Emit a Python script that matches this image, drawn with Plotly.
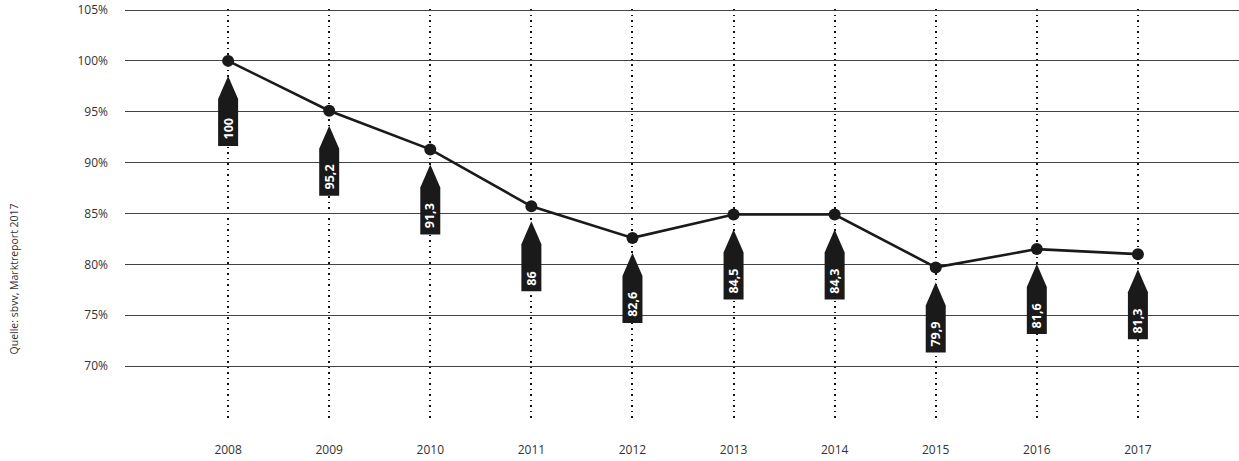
import plotly.graph_objects as go

years = [2008, 2009, 2010, 2011, 2012, 2013, 2014, 2015, 2016, 2017]
values = [100, 95.1, 91.3, 85.7, 82.6, 84.9, 84.9, 79.7, 81.5, 81.0]
labels = ["100", "95,2", "91,3", "86", "82,6", "84,5", "84,3", "79,9", "81,6", "81,3"]
y_ticks = [70, 75, 80, 85, 90, 95, 100, 105]
y_tick_text = ["70%", "75%", "80%", "85%", "90%", "95%", "100%", "105%"]
source = "Quelle: sbvv, Marktreport 2017"

fig = go.Figure()
fig.add_trace(go.Scatter(
    x=years, y=values, mode="lines+markers",
    line=dict(color="#1a1a1a", width=2.6),
    marker=dict(color="#1a1a1a", size=12),
    hoverinfo="skip", showlegend=False,
))

arrow_path = "M 0 -15 L 10 -38 L 10 -85 L -10 -85 L -10 -38 Z"
for x, v, t in zip(years, values, labels):
    fig.add_shape(
        type="path", xref="x", yref="y",
        xsizemode="pixel", ysizemode="pixel",
        xanchor=x, yanchor=v, path=arrow_path,
        fillcolor="#1a1a1a", line=dict(width=0), layer="above",
    )
    fig.add_annotation(
        x=x, y=v, xref="x", yref="y", text=t, showarrow=False,
        textangle=-90, xanchor="center", yanchor="bottom", yshift=-81,
        font=dict(family="Open Sans", size=12.5, color="white", weight="bold"),
    )

fig.add_annotation(
    x=-0.1, y=0.345, xref="paper", yref="paper", text=source, showarrow=False,
    textangle=-90, xanchor="center", yanchor="middle",
    font=dict(family="Open Sans", size=10.5, color="#333"),
)

fig.update_layout(
    width=1239, height=461,
    margin=dict(l=125, r=0, t=9, b=40),
    plot_bgcolor="white", paper_bgcolor="white",
    font=dict(family="Open Sans", size=12, color="#333"),
    xaxis=dict(
        range=[2006.98, 2018.0], tickvals=years, ticktext=[str(y) for y in years],
        showgrid=True, gridcolor="#111", gridwidth=1.7, griddash="1.7px,3.8px",
        zeroline=False, showline=False, ticks="", ticklabelstandoff=20,
    ),
    yaxis=dict(
        range=[64.6, 105.1], tickvals=y_ticks, ticktext=y_tick_text,
        showgrid=True, gridcolor="#444", gridwidth=1,
        zeroline=False, showline=False, ticks="", ticklabelstandoff=16,
    ),
)

fig.write_html(
    "out.html",
    config={"displayModeBar": False},
    post_script="document.body.style.margin='0';document.body.style.overflow='hidden';",
)
